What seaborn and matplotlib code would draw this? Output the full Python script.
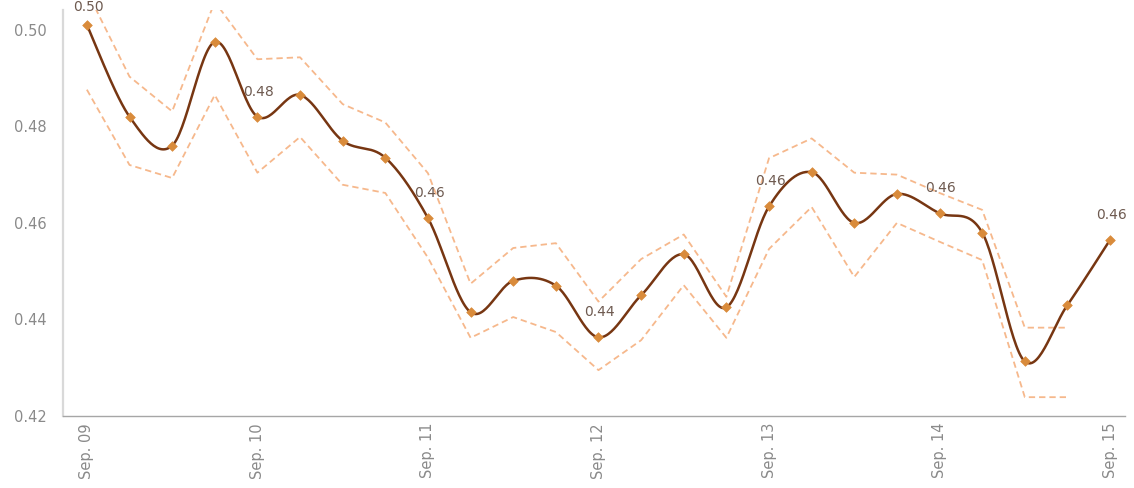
import numpy as np
import pandas as pd
import matplotlib
matplotlib.use("Agg")
import matplotlib.pyplot as plt
import seaborn as sns

# ---- data (quarterly, Sep 2009 .. Sep 2015) ----
quarters = list(range(25))
ratio = [0.501, 0.482, 0.476, 0.4975, 0.482, 0.4865, 0.477, 0.4735, 0.461,
         0.4415, 0.448, 0.447, 0.4363, 0.445, 0.4535, 0.4425, 0.4634, 0.4705,
         0.460, 0.466, 0.462, 0.458, 0.4313, 0.443, 0.4565]
upper = [0.508, 0.4903, 0.4831, 0.5058, 0.4939, 0.4943, 0.4846, 0.4808, 0.4703,
         0.4474, 0.4548, 0.4558, 0.4437, 0.4525, 0.4576, 0.4447, 0.4734, 0.4775,
         0.4704, 0.4700, 0.4662, 0.4627, 0.4383, 0.4383]
lower = [0.4876, 0.4720, 0.4693, 0.4865, 0.4704, 0.4778, 0.4679, 0.4662, 0.4528,
         0.4362, 0.4405, 0.4374, 0.4295, 0.4357, 0.4471, 0.4362, 0.4546, 0.4633,
         0.4488, 0.4600, 0.4561, 0.4523, 0.4239, 0.4239]
tick_pos = [0, 4, 8, 12, 16, 20, 24]
tick_labels = ["Sep. 09", "Sep. 10", "Sep. 11", "Sep. 12", "Sep. 13", "Sep. 14", "Sep. 15"]
label_pos = [0, 4, 8, 12, 16, 20, 24]
data_labels = ["0.50", "0.48", "0.46", "0.44", "0.46", "0.46", "0.46"]
y_ticks = [0.42, 0.44, 0.46, 0.48, 0.50]

# ---- smoothed curve (Catmull-Rom / Bezier like Excel's smoothed line) ----
def smooth(xs, ys, n=30):
    P = np.column_stack([xs, ys]).astype(float)
    out = []
    for i in range(len(P) - 1):
        p0 = P[i - 1] if i > 0 else P[i]
        p1, p2 = P[i], P[i + 1]
        p3 = P[i + 2] if i + 2 < len(P) else P[i + 1]
        b1 = p1 + (p2 - p0) / 6.0
        b2 = p2 - (p3 - p1) / 6.0
        t = np.linspace(0, 1, n, endpoint=(i == len(P) - 2))[:, None]
        seg = ((1 - t) ** 3) * p1 + 3 * ((1 - t) ** 2) * t * b1 + 3 * (1 - t) * t ** 2 * b2 + t ** 3 * p2
        out.append(seg)
    out = np.vstack(out)
    return out[:, 0], out[:, 1]

sx, sy = smooth(quarters, ratio)
curve = pd.DataFrame({"x": sx, "y": sy})
pts = pd.DataFrame({"x": quarters, "y": ratio})
band = pd.DataFrame({"x": quarters[:len(upper)], "upper": upper, "lower": lower})

sns.set_theme(style="white")
plt.rcParams["font.family"] = ["DejaVu Sans"]

fig = plt.figure(figsize=(11.34, 4.88), dpi=100)
ax = fig.add_axes([63 / 1134, 1 - 416 / 488, (1125 - 63) / 1134, (416 - 10) / 488])

band_color = "#f6b88c"
for col in ["upper", "lower"]:
    sns.lineplot(data=band, x="x", y=col, ax=ax, color=band_color, linewidth=1.3,
                 sort=False, estimator=None)
    ax.lines[-1].set_dashes((3.5, 2.2))

sns.lineplot(data=curve, x="x", y="y", ax=ax, color="#773612", linewidth=1.8,
             sort=False, estimator=None)
sns.scatterplot(data=pts, x="x", y="y", ax=ax, marker="D", s=24, color="#d98b3b",
                edgecolor="#d98b3b", linewidth=0.5, zorder=5)

for i, txt in zip(label_pos, data_labels):
    dy = 13 if i == 0 else 18
    ax.annotate(txt, (quarters[i], ratio[i]), xytext=(1, dy), textcoords="offset points",
                ha="center", va="center", fontsize=10, color="#6e5a50", annotation_clip=False)

ax.set_xlim(-0.56, 24.35)
ax.set_ylim(0.42, 0.5041)
ax.set_yticks(y_ticks)
ax.set_yticklabels([f"{v:.2f}" for v in y_ticks])
ax.set_xticks(tick_pos)
ax.set_xticklabels(tick_labels, rotation=90)
ax.tick_params(axis="y", length=0, pad=12, labelsize=10.5, labelcolor="#8a8a8a")
ax.tick_params(axis="x", length=0, pad=5, labelsize=10.5, labelcolor="#8a8a8a")
ax.set_xlabel("")
ax.set_ylabel("")
for s in ["top", "right"]:
    ax.spines[s].set_visible(False)
ax.spines["left"].set_color("#d9d9d9")
ax.spines["left"].set_linewidth(1.6)
ax.spines["bottom"].set_color("#a6a6a6")
ax.spines["bottom"].set_linewidth(1.0)
ax.grid(False)

fig.savefig("out.png", dpi=100)
